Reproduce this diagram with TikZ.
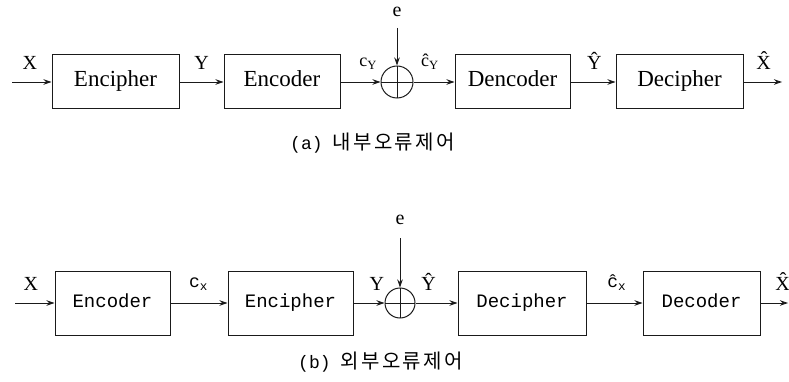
\documentclass[tikz,border=0pt]{standalone}
\usepackage{fontspec}
\setmainfont{Liberation Serif}
\setmonofont{Liberation Mono}
\newfontfamily\kofont[LetterSpace=12]{Noto Sans CJK KR}
\usetikzlibrary{arrows.meta,positioning}
\definecolor{cInk}{HTML}{1A1A1A}
\tikzset{
  blk/.style   = {draw=cInk, line width=1pt, inner sep=0pt, minimum height=54pt,
                  text height=15pt, text depth=5pt,
                  font=\fontsize{23}{23}\selectfont},
  blkb/.style  = {blk, minimum height=64pt, text height=13pt, text depth=4pt,
                  font=\ttfamily\fontsize{19}{19}\selectfont},
  xorc/.style  = {circle, draw=cInk, line width=1pt, inner sep=0pt, minimum size=32pt,
                  path picture={\draw[cInk, line width=0.9pt]
                    (path picture bounding box.north) -- (path picture bounding box.south)
                    (path picture bounding box.west) -- (path picture bounding box.east);}},
  flow/.style  = {-{Stealth[length=8pt,width=5.5pt]}, line width=0.9pt, draw=cInk},
  lbl/.style   = {font=\fontsize{20}{20}\selectfont, inner sep=0pt, above=12pt},
  lblt/.style  = {lbl, font=\ttfamily\fontsize{18}{18}\selectfont},
  captxt/.style = {anchor=west, inner sep=0pt, font=\fontsize{20}{20}\selectfont},
}
\begin{document}
\begin{tikzpicture}[x=1pt, y=-1pt]
  \useasboundingbox (0,0) rectangle (789,382);
  % (a) inner error control
  \coordinate (inA) at (12,82);
  \node[blk, minimum width=127pt] (encA) at (115.5,82) {Encipher};
  \node[blk, minimum width=116pt, right=44pt of encA] (codA) {Encoder};
  \node[xorc, right=40pt of codA] (sumA) {};
  \node[blk, minimum width=115pt, right=41pt of sumA] (decA) {Dencoder};
  \node[blk, minimum width=127pt, right=45pt of decA] (dciA) {Decipher};
  \coordinate (outA) at (782,82);
  \coordinate (eA) at (sumA.north |- 0,28);
  \draw[flow] (inA) -- node[pos=0.45, lbl] {X} (encA);
  \draw[flow] (encA) -- node[pos=0.5, lbl] {Y} (codA);
  \draw[flow] (codA) -- node[pos=0.69, lbl, font=\fontsize{18}{18}\selectfont]
    {c\textsubscript{Y}} (sumA);
  \draw[flow] (eA) node[lbl, above=11pt] {e} -- (sumA);
  \draw[flow] (sumA) -- node[pos=0.4, lbl, font=\fontsize{18}{18}\selectfont]
    {\^c\textsubscript{Y}} (decA);
  \draw[flow] (decA) -- node[pos=0.53, lbl] {\^Y} (dciA);
  \draw[flow] (dciA) -- node[pos=0.52, lbl] {\^X} (outA);
  \node[captxt] (capA) at (290,143) {{\ttfamily\fontsize{18}{18}\selectfont(a)}\hspace{10pt}{\kofont 내부오류제어}};
  % (b) outer error control
  \coordinate (inB) at (15,303);
  \node[blkb, minimum width=115pt] (encB) at (112.5,303) {Encoder};
  \node[blkb, minimum width=125pt, right=57pt of encB] (cphB) {Encipher};
  \node[xorc, minimum size=30pt, right=31pt of cphB] (sumB) {};
  \node[blkb, minimum width=128pt, right=42pt of sumB] (dciB) {Decipher};
  \node[blkb, minimum width=117pt, right=56pt of dciB] (dcoB) {Decoder};
  \coordinate (outB) at (788,303);
  \coordinate (eB) at (sumB.north |- 0,238);
  \draw[flow] (inB) -- node[pos=0.4, lbl] {X} (encB);
  \draw[flow] (encB) -- node[pos=0.49, lblt] {c\textsubscript{x}} (cphB);
  \draw[flow] (cphB) -- node[pos=0.75, lbl] {Y} (sumB);
  \draw[flow] (eB) node[lbl, above=13pt] {e} -- (sumB);
  \draw[flow] (sumB) -- node[pos=0.31, lbl] {\^Y} (dciB);
  \draw[flow] (dciB) -- node[pos=0.54, lblt] {\^c\textsubscript{x}} (dcoB);
  \draw[flow] (dcoB) -- node[pos=0.8, lbl] {\^X} (outB);
  \node[captxt] (capB) at (298,362) {{\ttfamily\fontsize{18}{18}\selectfont(b)}\hspace{10pt}{\kofont 외부오류제어}};
\end{tikzpicture}
\end{document}
